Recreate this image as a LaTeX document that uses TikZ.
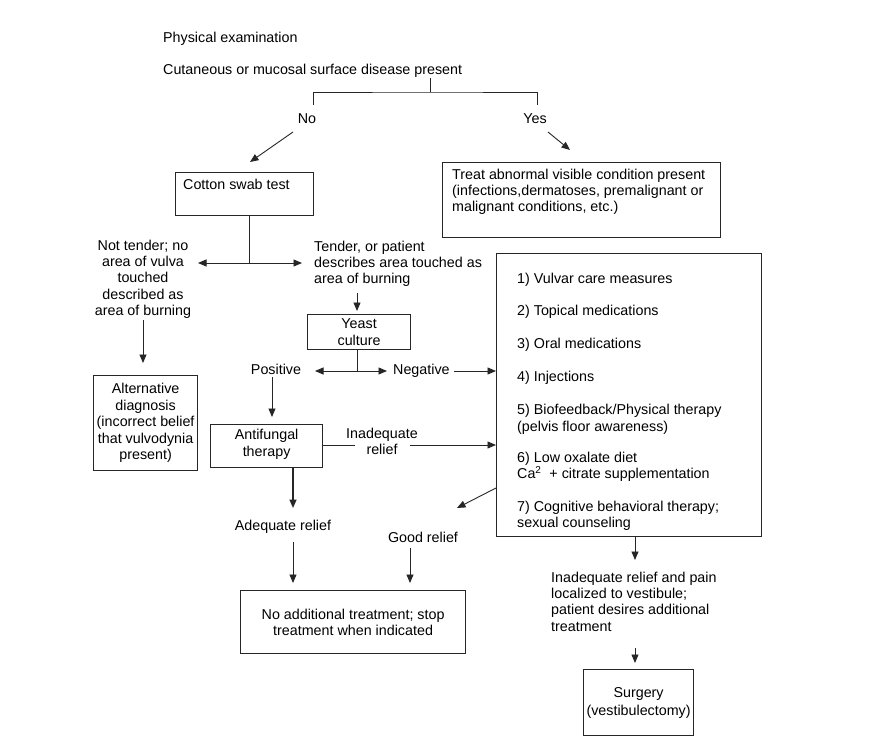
\documentclass[tikz,border=0pt]{standalone}
\usepackage{fontspec}
\setmainfont{Liberation Sans}
\usetikzlibrary{arrows.meta}
\begin{document}
\begin{tikzpicture}[x=1pt,y=-1pt,
  every node/.style={inner sep=0pt, font=\fontsize{14.3}{16.4}\selectfont, text=black},
  box/.style={draw=black!85, line width=1.2pt, inner sep=0pt, anchor=north west},
  ln/.style={draw=black!85, line width=0.9pt},
  arr/.style={ln, -{Triangle[length=8.5pt,width=7pt]}},
  darr/.style={ln, {Triangle[length=8.5pt,width=7pt]}-{Triangle[length=8.5pt,width=7pt]}},
  mtext/.style={anchor=north west, align=left},
  ctext/.style={anchor=north, align=center}]
\useasboundingbox (0,0) rectangle (891,751);
\fill[white] (0,0) rectangle (891,751);

% top texts
\node[anchor=base west] (pe) at (163,43) {Physical examination};
\node[anchor=base west] (cut) at (163,75) {Cutaneous or mucosal surface disease present};
\node[anchor=base] (no) at (307,124) {No};
\node[anchor=base] (yes) at (535,124) {Yes};

\coordinate (j1) at (430,92);
\coordinate (jL) at (313,105);
\coordinate (jR) at (537,105);
\draw[ln] (cut.south -| j1) -- (j1);
\draw[ln] (jL) |- (j1) -| (jR);

% boxes
\node[box, minimum width=138pt, minimum height=43pt] (cotton) at (175,172) {};
\node[anchor=base west] (cottontxt) at (183,190) {Cotton swab test};
\node[box, minimum width=278pt, minimum height=75pt] (treat) at (442,162) {};
\node[mtext] (treattxt) at (452,168.5) {Treat abnormal visible condition present\\(infections,dermatoses, premalignant or\\malignant conditions, etc.)};

\coordinate (noA) at (293,132);
\coordinate (noB) at (250,162);
\coordinate (yesA) at (548,132);
\coordinate (yesB) at (570,150);
\draw[arr] (noA) -- (noB);
\draw[arr] (yesA) -- (yesB);

% cotton swab split
\coordinate (cj) at (249,263);
\coordinate (cl) at (198,263);
\coordinate (cr) at (302,263);
\draw[ln] (cotton.south -| cj) -- (cj);
\draw[darr] (cl) -- (cr);

\node[ctext] (nottender) at (143,239.5) {Not tender; no\\area of vulva\\touched\\described as\\area of burning};
\node[mtext] (tender) at (314,240.5) {Tender, or patient\\describes area touched as\\area of burning};

\node[box, minimum width=104pt, minimum height=95pt, align=center] (alt) at (93,375) {Alternative\\diagnosis\\(incorrect belief\\that vulvodynia\\present)};
\coordinate (ntA) at (143,320);
\coordinate (ntB) at (143,363);
\draw[arr] (ntA) -- (ntB);

\node[box, minimum width=103pt, minimum height=35pt, align=center, font=\fontsize{14.3}{17}\selectfont] (yeast) at (307,314) {Yeast\\culture};
\coordinate (tA) at (357,293);
\coordinate (tB) at (357,311);
\draw[arr] (tA) -- (tB);

\coordinate (yj) at (357,371);
\coordinate (yl) at (315,371);
\coordinate (yr) at (387,371);
\draw[ln] (yeast.south -| yj) -- (yj);
\draw[darr] (yl) -- (yr);
\node[anchor=base] (pos) at (276,374) {Positive};
\node[anchor=base west] (neg) at (393,374) {Negative};

% right list box
\node[box, minimum width=265pt, minimum height=283pt] (list) at (496,253) {};
\node[mtext] (listtxt) at (517,272.5) {1) Vulvar care measures\\[16.5pt]
2) Topical medications\\[16pt]
3) Oral medications\\[17pt]
4) Injections\\[16.5pt]
5) Biofeedback/Physical therapy\\(pelvis floor awareness)\\[15pt]
6) Low oxalate diet\\\hspace*{0pt}Ca\textsuperscript{2} \ + citrate supplementation\\[16pt]
7) Cognitive behavioral therapy;\\sexual counseling};

\draw[arr] (neg.east |- yj) ++(4,0) coordinate (negA) -- (list.west |- yj);

% antifungal
\node[box, minimum width=112pt, minimum height=43pt, align=center] (anti) at (210,424) {Antifungal\\therapy\\[-10pt]};
\coordinate (pA) at (272,377);
\coordinate (pB) at (272,417);
\draw[arr] (pA) -- (pB);

\node[ctext] (inad) at (382,427.5) {Inadequate\\relief};
\coordinate (iA) at (355,445);
\coordinate (iB) at (410,445);
\draw[ln] (anti.east |- iA) -- (iA);
\draw[arr] (iB) -- (list.west |- iB);

% lower left
\coordinate (aB) at (293,508);
\draw[arr, line width=1.6pt] (anti.south -| aB) -- (aB);
\node[anchor=base] (adeq) at (283,530) {Adequate relief};
\coordinate (gB) at (457,508);
\draw[arr] (list.west |- 0,488) -- (gB);
\node[anchor=base] (good) at (423,542) {Good relief};

\node[box, minimum width=225pt, minimum height=63pt, align=center] (noadd) at (240,590) {No additional treatment; stop\\treatment when indicated};
\coordinate (adA) at (293,542);
\coordinate (adB) at (293,583);
\draw[arr] (adA) -- (adB);
\coordinate (gdA) at (410,548);
\coordinate (gdB) at (410,583);
\draw[arr] (gdA) -- (gdB);

% lower right
\coordinate (lB) at (635,560);
\draw[arr] (list.south -| lB) -- (lB);
\node[mtext] (inad2) at (551,571.5) {Inadequate relief and pain\\localized to vestibule;\\patient desires additional\\treatment};
\node[box, minimum width=110pt, minimum height=66pt, align=center, font=\fontsize{14.3}{18}\selectfont] (surg) at (583,669) {Surgery\\(vestibulectomy)};
\coordinate (sA) at (635,648);
\coordinate (sB) at (635,663);
\draw[arr] (sA) -- (sB);
\end{tikzpicture}
\end{document}
